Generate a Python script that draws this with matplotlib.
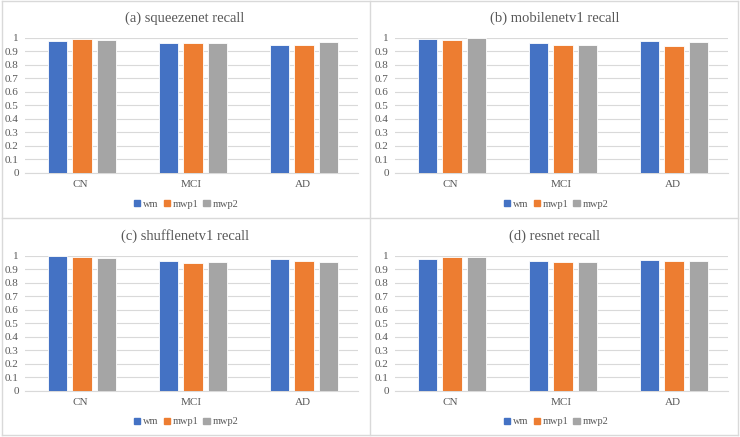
import numpy as np
import matplotlib.pyplot as plt
from matplotlib.lines import Line2D

plt.rcParams['font.family'] = ['Liberation Serif', 'DejaVu Serif']

# 数据
categories = ["CN", "MCI", "AD"]
series_names = ["wm", "mwp1", "mwp2"]
colors = ["#4472C4", "#ED7D31", "#A5A5A5"]
titles = ["(a) squeezenet recall", "(b) mobilenetv1 recall",
          "(c) shufflenetv1 recall", "(d) resnet recall"]

squeezenet = [[0.975, 0.961, 0.943],
              [0.990, 0.958, 0.943],
              [0.985, 0.961, 0.970]]
mobilenet = [[0.990, 0.958, 0.973],
             [0.983, 0.948, 0.941],
             [0.995, 0.948, 0.968]]
shufflenet = [[0.998, 0.963, 0.975],
              [0.990, 0.943, 0.961],
              [0.985, 0.953, 0.956]]
resnet = [[0.978, 0.963, 0.966],
          [0.993, 0.953, 0.958],
          [0.988, 0.953, 0.963]]
panels = [squeezenet, mobilenet, shufflenet, resnet]

W, H = 740, 437
fig = plt.figure(figsize=(W / 100, H / 100), dpi=100)

# 面板位置 (像素): 左, 上
offsets = [(0, 0), (370, 0), (0, 218), (370, 218)]

x = np.arange(len(categories))
bw = 0.174
step = 0.219

for k, (ox, oy) in enumerate(offsets):
    left, right = ox + 25, ox + 358
    top, bottom = oy + 37.7, oy + 173
    ax = fig.add_axes([left / W, 1 - bottom / H, (right - left) / W, (bottom - top) / H])
    data = panels[k]
    for i, name in enumerate(series_names):
        ax.bar(x + (i - 1) * step + 0.013, data[i], width=bw, color=colors[i],
               edgecolor="white", linewidth=0.6, label=name, zorder=3)
    ax.set_xlim(-0.5, 2.5)
    ax.set_ylim(0, 1)
    ax.set_yticks(np.arange(0, 1.01, 0.1))
    ax.set_yticklabels(["0"] + [f"{v:.1f}" for v in np.arange(0.1, 0.95, 0.1)] + ["1"])
    ax.set_xticks(x)
    ax.set_xticklabels(categories)
    ax.grid(axis="y", color="#D9D9D9", linewidth=0.8, zorder=0)
    ax.tick_params(length=0, labelsize=8, colors="#595959", pad=5)
    ax.tick_params(axis="y", pad=4.5)
    for side in ["top", "right", "left"]:
        ax.spines[side].set_visible(False)
    ax.spines["bottom"].set_color("#D9D9D9")
    ax.spines["bottom"].set_linewidth(0.8)
    fig.text((ox + 185) / W, 1 - (oy + 18) / H, titles[k], ha="center", va="center",
             fontsize=10.5, color="#595959")
    handles = [plt.Rectangle((0, 0), 1, 1, color=c) for c in colors]
    fig.legend(handles, series_names, loc="center", bbox_to_anchor=((ox + 186) / W, 1 - (oy + 204) / H),
               ncol=3, frameon=False, fontsize=7.5, labelcolor="#595959",
               handlelength=0.6, handleheight=0.6, handletextpad=0.25, columnspacing=0.5)

# 面板边框
border = "#D9D9D9"
for xs, ys in [([2, 738], [1, 1]), ([2, 738], [435, 435]), ([2, 2], [1, 435]),
               ([738, 738], [1, 435]), ([370, 370], [1, 435]), ([2, 738], [218, 218])]:
    fig.add_artist(Line2D([v / W for v in xs], [1 - v / H for v in ys], color=border, linewidth=1))

fig.savefig("out.png", dpi=100)
